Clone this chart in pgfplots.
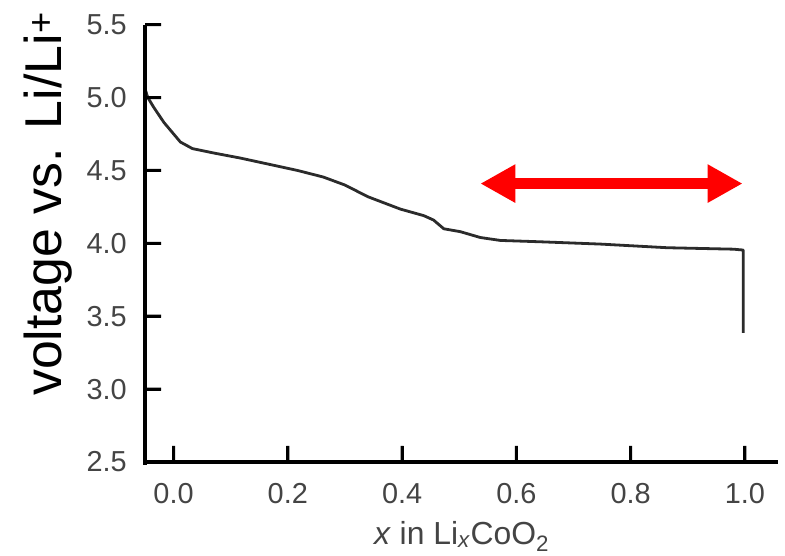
\documentclass[border=0pt]{standalone}
\usepackage{fontspec}
\setmainfont{Liberation Sans}
\usepackage{pgfplots}
\pgfplotsset{compat=1.18}
\usetikzlibrary{arrows.meta}

\definecolor{curve}{HTML}{2B2B2B}
\definecolor{ticktext}{HTML}{444444}

\begin{document}
\begin{tikzpicture}
\begin{axis}[
    scale only axis,
    width=633bp,
    height=437.3bp,
    xmin=-0.05, xmax=1.058,
    ymin=2.5, ymax=5.5,
    axis x line*=bottom,
    axis y line*=left,
    axis line style={line width=3bp, -},
    xtick={0,0.2,0.4,0.6,0.8,1.0},
    ytick={2.5,3.0,3.5,4.0,4.5,5.0,5.5},
    tick align=inside,
    major tick length=16bp,
    tick style={line width=3bp, black},
    /pgf/number format/assume math mode=true,
    /pgf/number format/.cd, fixed, fixed zerofill, precision=1,
    /pgfplots/.cd,
    ticklabel style={font=\fontsize{29}{32}\selectfont, text=ticktext, inner sep=0pt},
    xticklabel style={yshift=-21bp},
    yticklabel style={xshift=-18bp},
    clip=false,
]
\addplot[curve, line width=2.8bp, line join=round] coordinates {
    (-0.050,5.060) (-0.045,5.000) (-0.035,4.935) (-0.017,4.830)
    (-0.002,4.760) (0.012,4.695) (0.033,4.650) (0.070,4.620)
    (0.117,4.585) (0.170,4.540) (0.217,4.500) (0.262,4.455)
    (0.300,4.400) (0.340,4.320) (0.397,4.235) (0.438,4.190)
    (0.455,4.160) (0.473,4.100) (0.502,4.080) (0.537,4.040)
    (0.572,4.020) (0.647,4.010) (0.747,3.995) (0.864,3.970)
    (0.980,3.960) (0.997,3.954) (0.997,3.385)
};
\draw[red, line width=11bp, {Triangle[length=35bp,width=36bp]}-{Triangle[length=35bp,width=36bp]}]
    (axis cs:0.537,4.41) -- (axis cs:0.996,4.41);
\end{axis}
% axis frame and inward ticks as one path (axis box lower left at the origin)
\draw[line width=3bp, black, line cap=butt]
    (0,437.3bp) -- (0,-3bp) (0,0) -- (633bp,0)
    (28.6bp,0) -- (28.6bp,16bp)   (142.8bp,0) -- (142.8bp,16bp)
    (257.1bp,0) -- (257.1bp,16bp) (371.3bp,0) -- (371.3bp,16bp)
    (485.5bp,0) -- (485.5bp,16bp) (599.8bp,0) -- (599.8bp,16bp)
    (0,72.9bp) -- (16bp,72.9bp)   (0,145.8bp) -- (16bp,145.8bp)
    (0,218.7bp) -- (16bp,218.7bp) (0,291.5bp) -- (16bp,291.5bp)
    (0,364.4bp) -- (16bp,364.4bp) (0,437.3bp) -- (16bp,437.3bp);
\fill[black]
    (27.1bp,0) rectangle (30.1bp,16bp)    (141.3bp,0) rectangle (144.3bp,16bp)
    (255.6bp,0) rectangle (258.6bp,16bp)  (369.8bp,0) rectangle (372.8bp,16bp)
    (484.0bp,0) rectangle (487.0bp,16bp)  (598.3bp,0) rectangle (601.3bp,16bp)
    (0,71.4bp) rectangle (16bp,74.4bp)    (0,144.3bp) rectangle (16bp,147.3bp)
    (0,217.2bp) rectangle (16bp,220.2bp)  (0,290.0bp) rectangle (16bp,293.0bp)
    (0,362.9bp) rectangle (16bp,365.9bp)  (0,435.8bp) rectangle (16bp,438.8bp);
\node[rotate=90, anchor=base west, inner sep=0pt, font=\fontsize{52}{56}\selectfont]
    at (-83bp,66bp) {voltage vs. Li/Li\textsuperscript{+}};
\node[anchor=base, inner sep=0pt, text=ticktext, font=\fontsize{32}{36}\selectfont]
    at (316.5bp,-82bp) {\textit{x} in Li\textsubscript{\textit{x}}CoO\textsubscript{2}};
% page frame
\path (-145bp,-94bp) rectangle (640bp,462bp);
\end{tikzpicture}
\end{document}
